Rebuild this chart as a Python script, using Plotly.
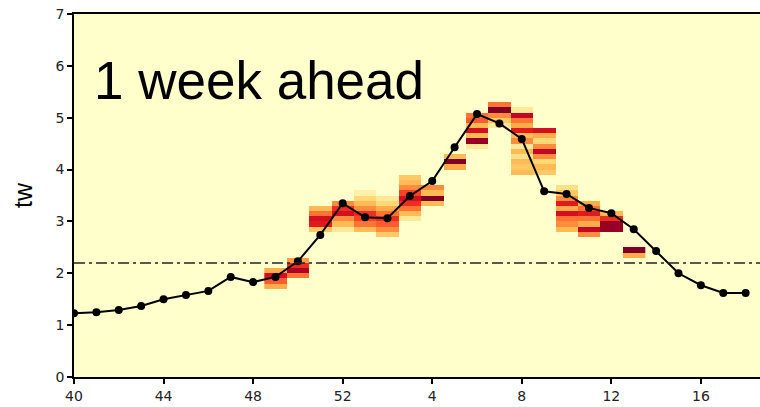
import plotly.graph_objects as go
import plotly.express as px

# x positions are sequential indices; labels are epidemiological weeks
weeks = [40, 41, 42, 43, 44, 45, 46, 47, 48, 49, 50, 51, 52,
         1, 2, 3, 4, 5, 6, 7, 8, 9, 10, 11, 12, 13, 14, 15, 16, 17, 18]
tw = [1.23, 1.25, 1.29, 1.37, 1.50, 1.58, 1.66, 1.93, 1.83, 1.93, 2.23,
      2.74, 3.35, 3.08, 3.06, 3.49, 3.78, 4.43, 5.07, 4.89, 4.59, 3.58,
      3.53, 3.26, 3.16, 2.85, 2.43, 2.00, 1.77, 1.62, 1.62]
threshold = 2.2
tick_weeks = [40, 44, 48, 52, 4, 8, 12, 16]

# forecast distributions: week, lowest bin edge, bin probabilities (bottom -> top)
bin_width = 0.1
fc_weeks = [49, 50, 51, 52, 1, 2, 3, 4, 5, 6, 7, 8, 9, 10, 11, 12, 13]
fc_bottom = [1.7, 1.9, 2.8, 2.8, 2.8, 2.7, 3.0, 3.3, 4.0, 4.4, 4.8, 3.9, 3.9, 2.8, 2.7, 2.8, 2.3]
fc_probs = [
    [0.40, 0.60, 0.80, 0.40],
    [0.55, 0.90, 0.70, 0.45],
    [0.30, 0.75, 0.80, 0.55, 0.35],
    [0.15, 0.35, 0.50, 0.80, 0.70, 0.50],
    [0.35, 0.55, 0.65, 0.70, 0.50, 0.35, 0.25, 0.10],
    [0.30, 0.50, 0.60, 0.70, 0.55, 0.40, 0.25, 0.15],
    [0.15, 0.35, 0.55, 0.70, 0.80, 0.65, 0.50, 0.35, 0.30],
    [0.35, 1.00, 0.35, 0.50],
    [0.40, 1.00, 0.35],
    [0.15, 0.95, 0.35, 0.80, 0.35, 0.60, 0.55],
    [0.15, 0.30, 0.50, 1.00, 0.55],
    [0.35, 0.30, 0.35, 0.20, 0.35, 0.15, 0.50, 0.35, 0.75, 0.40, 0.55, 0.85, 0.15],
    [0.30, 0.35, 0.25, 0.50, 0.85, 0.50, 0.25, 0.40, 0.80],
    [0.35, 0.50, 0.55, 0.80, 0.40, 0.75, 0.50, 0.30, 0.20],
    [0.50, 0.85, 0.40, 0.55, 0.75, 0.55, 0.40],
    [0.95, 0.95, 0.70, 0.35],
    [0.40, 1.00],
]


def pos(w):
    # weeks 1..39 belong to the second calendar year of the season
    return weeks.index(w, 13) if w < 40 else weeks.index(w)


x_idx = list(range(len(weeks)))
fc_x = [pos(w) for w in fc_weeks]

n_bins = 70
y_centers = [round(bin_width * (k + 0.5), 3) for k in range(n_bins)]
z = [[None] * len(fc_x) for _ in range(n_bins)]
for j, (b, probs) in enumerate(zip(fc_bottom, fc_probs)):
    k0 = int(round(b / bin_width))
    for m, p in enumerate(probs):
        z[k0 + m][j] = p

ylorrd = px.colors.sequential.YlOrRd

fig = go.Figure()
fig.add_trace(go.Heatmap(x=fc_x, y=y_centers, z=z, colorscale=ylorrd,
                         zmin=0, zmax=1, showscale=False, hoverongaps=False))
fig.add_trace(go.Scatter(x=x_idx, y=tw, mode="lines+markers",
                         line=dict(color="black", width=2),
                         marker=dict(color="black", size=8),
                         showlegend=False))
fig.add_shape(type="line", xref="paper", x0=0, x1=1, yref="y", y0=threshold, y1=threshold,
              line=dict(color="#222222", width=1.5, dash="11px,4px,3px,4px"), layer="above")

fig.add_annotation(text="1 week ahead", xref="paper", yref="paper",
                   x=0.026, y=0.818, xanchor="left", yanchor="middle", showarrow=False,
                   font=dict(family="Liberation Sans, Arial", size=53, color="black"))

tick_vals = [pos(w) for w in tick_weeks]
fig.update_layout(
    width=760, height=407,
    margin=dict(l=74, r=0, t=14, b=30),
    paper_bgcolor="white", plot_bgcolor="#ffffcc",
    showlegend=False,
    xaxis=dict(range=[0, 30.64], tickvals=tick_vals, ticktext=[str(w) for w in tick_weeks],
               showgrid=False, zeroline=False, showline=True, linecolor="black", linewidth=1.5,
               mirror=True, ticks="outside", ticklen=5, tickcolor="black", tickwidth=1.5,
               tickfont=dict(family="DejaVu Sans", size=14, color="#222222")),
    yaxis=dict(range=[0, 7], tickvals=list(range(8)), showgrid=False, zeroline=False,
               showline=True, linecolor="black", linewidth=1.5, ticks="outside", ticklen=5,
               tickcolor="black", tickwidth=1.5,
               tickfont=dict(family="DejaVu Sans", size=14, color="#222222"),
               title=dict(text="tw", font=dict(family="Liberation Sans, Arial", size=25, color="black"),
                          standoff=16)),
)

fig.write_html("out.html", config={"displayModeBar": False},
               post_script="document.body.style.margin='0';document.body.style.overflow='hidden';")
